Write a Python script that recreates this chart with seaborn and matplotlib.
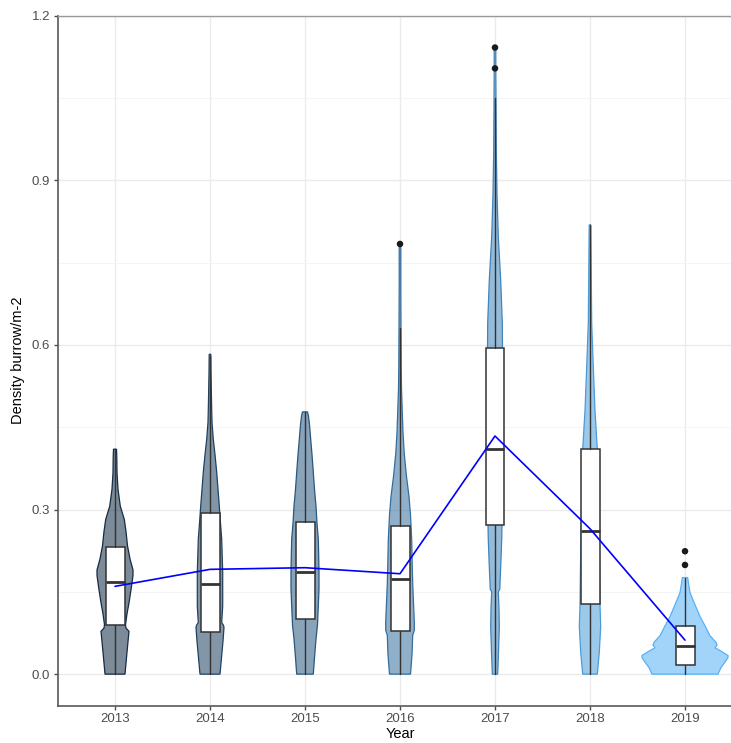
import numpy as np
import matplotlib
matplotlib.use("Agg")
import matplotlib.pyplot as plt
import seaborn as sns
from matplotlib.colors import to_rgb

# ---------------- data ----------------
years = ["2013", "2014", "2015", "2016", "2017", "2018", "2019"]
q1 = [0.089, 0.076, 0.100, 0.079, 0.272, 0.128, 0.017]
median = [0.168, 0.165, 0.187, 0.174, 0.410, 0.260, 0.052]
q3 = [0.232, 0.294, 0.277, 0.270, 0.594, 0.410, 0.088]
whisker_low = [0.0, 0.0, 0.0, 0.0, 0.0, 0.0, 0.0]
whisker_high = [0.410, 0.580, 0.478, 0.630, 1.050, 0.819, 0.176]
means = [0.160, 0.191, 0.194, 0.183, 0.434, 0.265, 0.062]
outlier_year = ["2016", "2017", "2017", "2019", "2019"]
outlier_value = [0.784, 1.104, 1.142, 0.199, 0.224]
y_ticks = [0.0, 0.3, 0.6, 0.9, 1.2]

# violin profiles: density level (y) and relative density (half width)
dens_y_2013 = [0, 0.03, 0.065, 0.078, 0.084, 0.09, 0.11, 0.13, 0.16, 0.18, 0.19, 0.21,
               0.234, 0.26, 0.282, 0.306, 0.337, 0.367, 0.395, 0.41]
dens_w_2013 = [10, 11.5, 13.3, 14, 11, 10.5, 12, 14, 16.5, 18, 18, 15,
               12.5, 11, 9.3, 5.3, 3, 2, 1.8, 1.5]
dens_y_2014 = [0, 0.03, 0.06, 0.085, 0.089, 0.094, 0.124, 0.155, 0.186, 0.215, 0.246, 0.275,
               0.306, 0.337, 0.368, 0.40, 0.428, 0.459, 0.49, 0.519, 0.55, 0.583]
dens_w_2014 = [10, 11.5, 13, 14, 13.5, 11.7, 12.7, 12.7, 12.7, 12.2, 11.7, 10.5,
               9.3, 8, 6.7, 5, 3.3, 2, 1.6, 1.3, 1.0, 0.8]
dens_y_2015 = [0, 0.03, 0.064, 0.09, 0.124, 0.155, 0.186, 0.215, 0.246, 0.275, 0.306,
               0.337, 0.368, 0.40, 0.428, 0.455, 0.47, 0.478]
dens_w_2015 = [8.3, 9.5, 11, 12.5, 13.3, 14, 14, 13.7, 13.3, 12, 11,
               9.5, 8.3, 7, 5.7, 4.5, 3.5, 2.5]
dens_y_2016 = [0, 0.035, 0.071, 0.08, 0.095, 0.13, 0.166, 0.2, 0.245, 0.29, 0.324,
               0.36, 0.403, 0.44, 0.482, 0.52, 0.56, 0.63, 0.70, 0.784]
dens_w_2016 = [10.5, 12, 12.7, 14.3, 14.3, 13.5, 12.7, 12.2, 11.7, 10.5, 9,
               6.5, 4.2, 3, 2.2, 1.5, 1.2, 1.0, 0.8, 0.8]
dens_y_2017 = [0, 0.04, 0.087, 0.12, 0.15, 0.155, 0.166, 0.2, 0.245, 0.30, 0.40, 0.50,
               0.59, 0.64, 0.718, 0.797, 0.876, 0.955, 1.04, 1.10, 1.142]
dens_w_2017 = [2.7, 3.5, 4.3, 4.0, 3.3, 4.8, 5.0, 5.8, 6.7, 7.3, 7.8, 7.8,
               7.5, 7.3, 5.7, 3.3, 2.0, 1.3, 1.0, 0.8, 0.8]
dens_y_2018 = [0, 0.04, 0.087, 0.126, 0.2, 0.3, 0.41, 0.48, 0.56, 0.64, 0.718, 0.78, 0.819]
dens_w_2018 = [7.3, 9.3, 10.7, 10, 9.5, 8.5, 7.3, 5, 3.3, 1.7, 1.3, 1.0, 0.8]
dens_y_2019 = [0, 0.012, 0.022, 0.03, 0.034, 0.042, 0.048, 0.053, 0.058, 0.07, 0.088,
               0.105, 0.118, 0.135, 0.149, 0.165, 0.176]
dens_w_2019 = [33, 36, 40, 43, 43, 36, 30, 32, 31, 25, 20,
               15, 12, 8, 5, 3.5, 2.7]

profiles = [
    (dens_y_2013, dens_w_2013), (dens_y_2014, dens_w_2014), (dens_y_2015, dens_w_2015),
    (dens_y_2016, dens_w_2016), (dens_y_2017, dens_w_2017), (dens_y_2018, dens_w_2018),
    (dens_y_2019, dens_w_2019),
]

# ---------------- styling ----------------
sns.set_theme(style="white")
plt.rcParams["font.family"] = ["Liberation Sans", "DejaVu Sans"]

W, H = 731, 743
fig = plt.figure(figsize=(W / 100, H / 100), dpi=100)
ax = fig.add_axes([58 / W, (H - 705.7) / H, (742 - 58) / W, (705.7 - 15.7) / H])

xpos = np.arange(len(years))
YMIN, YMAX = -0.0575, 1.2

ax.set_yticks(y_ticks)
ax.set_yticks([0.15, 0.45, 0.75, 1.05], minor=True)
ax.set_xticks(xpos)
ax.set_xticklabels(years)
ax.set_yticklabels([f"{v:.1f}" for v in y_ticks])
ax.grid(True, which="major", color="#ebebeb", lw=1.0)
ax.grid(True, which="minor", axis="y", color="#f3f3f3", lw=0.6)
ax.set_axisbelow(True)

low = np.array(to_rgb("#132B43"))
high = np.array(to_rgb("#56B1F7"))
px_per_cat = (742 - 58) / (len(years) - 1 + 1.2)
alpha = 0.55

for i, (yy, ww) in enumerate(profiles):
    t = i / (len(years) - 1)
    col = low * (1 - t) + high * t
    yy = np.array(yy)
    ww = np.array(ww) / px_per_cat
    xs = np.concatenate([i + ww, (i - ww)[::-1]])
    ys = np.concatenate([yy, yy[::-1]])
    ax.fill(xs, ys, facecolor=(*col, alpha), edgecolor=col, lw=0.9, zorder=2)

stats = []
for i in range(len(years)):
    stats.append(dict(med=median[i], q1=q1[i], q3=q3[i],
                      whislo=whisker_low[i], whishi=whisker_high[i], fliers=[]))
ax.bxp(stats, positions=xpos, widths=0.2, patch_artist=True, showcaps=False,
       boxprops=dict(facecolor="white", edgecolor="#333333", lw=1.1),
       medianprops=dict(color="#333333", lw=2.0),
       whiskerprops=dict(color="#333333", lw=1.0),
       manage_ticks=False, zorder=3)

sns.lineplot(x=xpos, y=means, color="#0000FF", lw=1.2, ax=ax, zorder=4)
sns.scatterplot(x=[years.index(y) for y in outlier_year], y=outlier_value,
                color="#1a1a1a", s=22, edgecolor="none", ax=ax, zorder=5)

ax.set_xlim(-0.6, len(years) - 0.4)
ax.set_ylim(YMIN, YMAX)

for side in ["left", "bottom"]:
    ax.spines[side].set_color("#595959")
    ax.spines[side].set_linewidth(1.2)
for side in ["top", "right"]:
    ax.spines[side].set_color("#9a9a9a")
    ax.spines[side].set_linewidth(1.0)

ax.tick_params(axis="both", which="major", length=3, width=1, color="#4d4d4d",
               labelsize=9.5, labelcolor="#4d4d4d", pad=2.5, bottom=True, left=True)
ax.tick_params(axis="both", which="minor", length=0)

ax.set_xlabel("Year", fontsize=10.5, color="black", labelpad=1)
ax.set_ylabel("Density burrow/m-2", fontsize=10.5, color="black", labelpad=5)

fig.savefig("out.png", dpi=100)
